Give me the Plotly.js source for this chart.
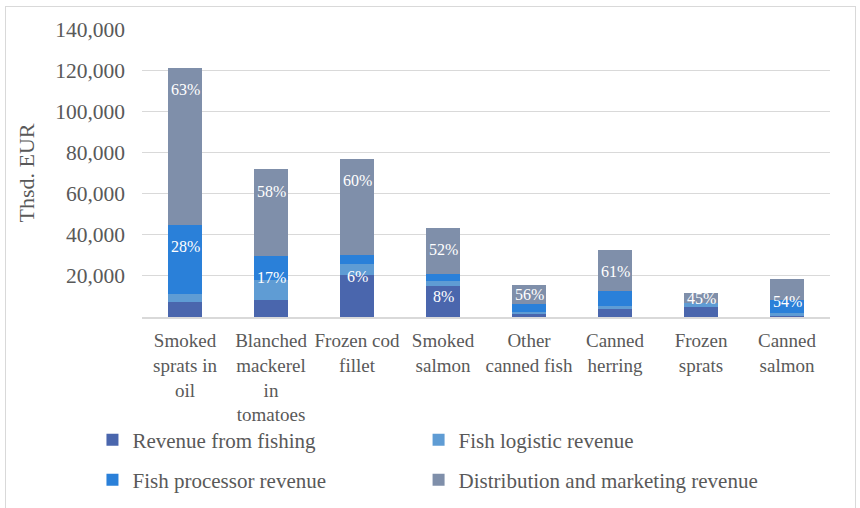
<!DOCTYPE html>
<html>
<head>
<meta charset="utf-8">
<script src="https://cdn.plot.ly/plotly-3.0.1.min.js"></script>
<style>
  html, body { margin: 0; padding: 0; background: #ffffff; }
  #wrap { position: relative; width: 860px; height: 508px; overflow: hidden; }
  #chart { width: 860px; height: 508px; }
  #frame { position: absolute; left: 5px; top: 6px; width: 851px; height: 520px;
           border: 1px solid #d9d9d9; box-sizing: border-box; pointer-events: none; }
</style>
</head>
<body>
<div id="wrap">
  <div id="chart"></div>
  <div id="frame"></div>
</div>
<script>
// Categories (x axis)
const categories = [
  "Smoked<br>sprats in<br>oil",
  "Blanched<br>mackerel<br>in<br>tomatoes",
  "Frozen cod<br>fillet",
  "Smoked<br>salmon",
  "Other<br>canned fish",
  "Canned<br>herring",
  "Frozen<br>sprats",
  "Canned<br>salmon"
];

// Series values, thousand EUR
const revenueFishing      = [7450, 8100, 20400, 15200, 1300, 3700, 5000, 300];
const fishLogistic        = [3750, 9900, 5400, 2400, 1300, 1750, 1650, 1700];
const fishProcessor       = [33700, 11800, 4500, 3100, 3900, 7150, 0, 6200];
const distributionMarket  = [76300, 42100, 46700, 22600, 9200, 20000, 5150, 10200];

// Percentage labels: category index, labelled series, text
const labelCategory = [0, 0, 1, 1, 2, 2, 3, 3, 4, 5, 6, 7];
const labelSeries   = ["dist", "proc", "dist", "proc", "dist", "proc", "dist", "proc", "dist", "dist", "dist", "dist"];
const labelText     = ["63%", "28%", "58%", "17%", "60%", "6%", "52%", "8%", "56%", "61%", "45%", "54%"];

// Y tick values
const yTicks = [20000, 40000, 60000, 80000, 100000, 120000, 140000];

const colors = {
  fish: "#4a66ad",
  logi: "#5f9cd4",
  proc: "#2a80d9",
  dist: "#7f8faa"
};

const serif = "Liberation Serif, serif";
const grey = "#595959";

function bar(name, y, color, legend) {
  return {
    type: "bar", name: name, x: categories, y: y,
    marker: { color: color, line: { width: 0 } },
    legend: legend,
    hoverinfo: "skip"
  };
}

const traces = [
  bar("Revenue from fishing", revenueFishing, colors.fish, "legend"),
  bar("Fish logistic revenue", fishLogistic, colors.logi, "legend2"),
  bar("Fish processor revenue", fishProcessor, colors.proc, "legend3"),
  bar("Distribution and marketing revenue", distributionMarket, colors.dist, "legend4")
];

// label y = top of the labelled segment (cumulative)
const shiftOverride = { 8: -10, 10: -6 };
const annotations = labelText.map((t, i) => {
  const c = labelCategory[i];
  const procTop = revenueFishing[c] + fishLogistic[c] + fishProcessor[c];
  const top = labelSeries[i] === "dist" ? procTop + distributionMarket[c] : procTop;
  return {
    x: categories[c], y: top, xref: "x", yref: "y",
    text: t, showarrow: false, yanchor: "middle",
    yshift: (i in shiftOverride) ? shiftOverride[i] : -22,
    font: { family: serif, size: 16, color: "#ffffff" }
  };
});

function legendAt(x, y) {
  return {
    orientation: "h",
    x: x, y: y,
    xanchor: "left", yanchor: "middle",
    font: { family: serif, size: 21, color: grey },
    bgcolor: "rgba(0,0,0,0)"
  };
}

const layout = {
  width: 860, height: 508,
  margin: { l: 142, r: 30, t: 29, b: 191, autoexpand: false },
  paper_bgcolor: "#ffffff", plot_bgcolor: "#ffffff",
  barmode: "stack",
  bargap: 0.6,
  showlegend: true,
  font: { family: serif, color: grey },
  xaxis: {
    type: "category",
    showgrid: false,
    showline: true, linecolor: "#d9d9d9", linewidth: 1.5,
    ticks: "",
    ticklabelstandoff: 6,
    tickfont: { family: serif, size: 19, color: grey },
    automargin: false
  },
  yaxis: {
    range: [0, 140000],
    tickvals: yTicks,
    tickformat: ",d",
    showgrid: true, gridcolor: "#d9d9d9", gridwidth: 1,
    zeroline: false, showline: false,
    ticks: "",
    ticklabelstandoff: 16,
    tickfont: { family: serif, size: 21.5, color: grey },
    title: { text: "Thsd. EUR", standoff: 14, font: { family: serif, size: 22, color: grey } },
    automargin: false
  },
  legend:  legendAt(-0.072, -0.427),
  legend2: legendAt(0.402, -0.427),
  legend3: legendAt(-0.072, -0.566),
  legend4: legendAt(0.402, -0.566),
  annotations: annotations
};

Plotly.newPlot("chart", traces, layout, { displayModeBar: false, staticPlot: true });
</script>
</body>
</html>
